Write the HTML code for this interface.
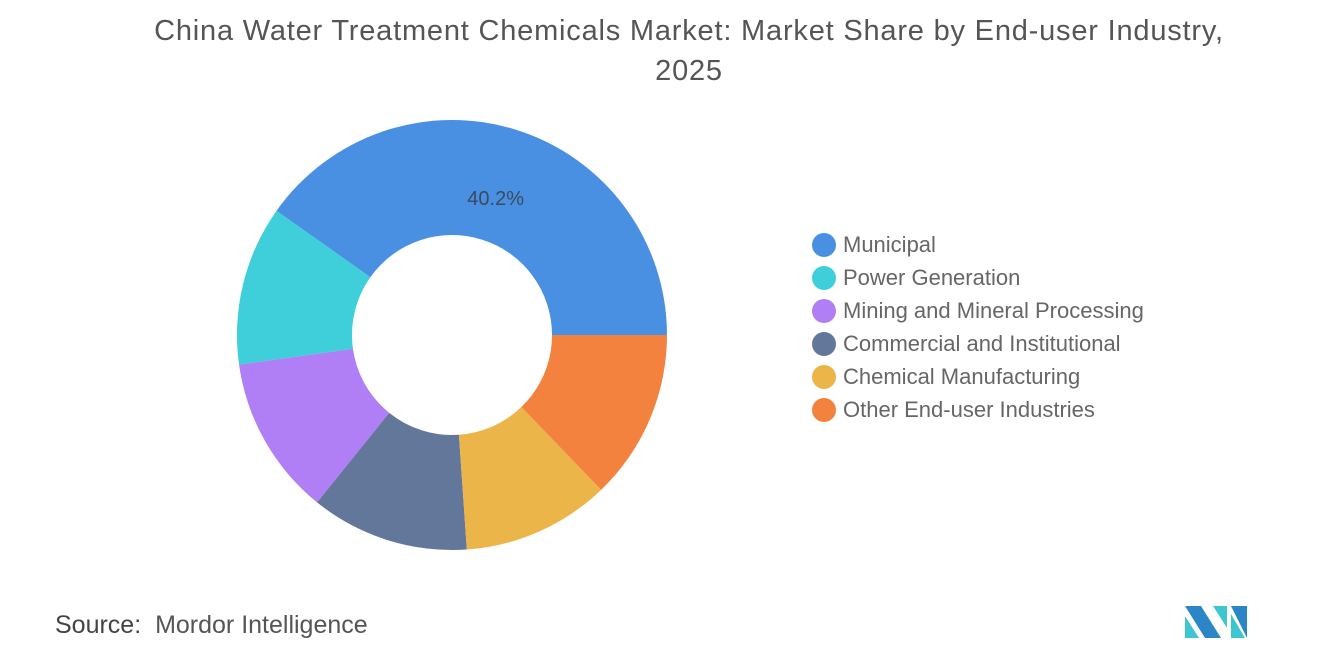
<!DOCTYPE html>
<html><head><meta charset="utf-8"><style>
body{margin:0;width:1320px;height:665px;background:#fff;font-family:"Liberation Sans",sans-serif;overflow:hidden;position:relative}
#title{position:absolute;left:0;width:1378px;top:11px;text-align:center;font-size:29px;letter-spacing:0.8px;line-height:40px;color:#555}
.leg{position:absolute;left:812px;height:30px;display:flex;align-items:center;font-size:22px;color:#666}
.leg span.dot{width:24px;height:24px;border-radius:50%;margin-right:7px}
#source{position:absolute;left:55px;top:611px;font-size:25px;color:#555}
</style></head><body>
<div id="title">China Water Treatment Chemicals Market: Market Share by End-user Industry,<br>2025</div>
<svg id="chart" width="1320" height="665" style="position:absolute;left:0;top:0"></svg>
<div id="legend"></div>
<div id="source"><b style="font-weight:normal;color:#444">Source:</b>&nbsp; Mordor Intelligence</div>
<svg width="70" height="36" style="position:absolute;left:1183px;top:604px">
<polygon points="2,2 18,2 38,34 22,34" fill="#2a86c6"/>
<polygon points="2,12 2,34 16,34" fill="#3ec6d0"/>
<polygon points="30,2 44,2 44,24" fill="#3ec6d0"/>
<polygon points="48,2 64,2 64,34" fill="#2a86c6"/>
<polygon points="48,10 48,34 62,34" fill="#3ec6d0"/>
</svg>
<script>
const categories=["Municipal","Power Generation","Mining and Mineral Processing","Commercial and Institutional","Chemical Manufacturing","Other End-user Industries"];
const values=[40.2,12.0,12.0,11.9,11.1,12.8];
const labels=["40.2%","","","","",""];
const colors=["#4a90e2","#3ecfdb","#b07ff5","#63779a","#ebb54a","#f3823f"];
const cx=452,cy=335,R=215,r=100;
const svg=document.getElementById('chart');
const NS="http://www.w3.org/2000/svg";
const total=values.reduce((a,b)=>a+b,0);
function pt(a,rad){return [cx+rad*Math.cos(a),cy+rad*Math.sin(a)];}
let ang=0;
values.forEach((v,i)=>{
  const sweep=v/total*2*Math.PI;
  const a0=ang,a1=ang-sweep;
  const large=sweep>Math.PI?1:0;
  const p0=pt(a0,R),p1=pt(a1,R),q1=pt(a1,r),q0=pt(a0,r);
  const p=document.createElementNS(NS,'path');
  p.setAttribute('d',`M${p0} A${R},${R} 0 ${large} 0 ${p1} L${q1} A${r},${r} 0 ${large} 1 ${q0} Z`);
  p.setAttribute('fill',colors[i]);
  
  
  svg.appendChild(p);
  if(labels[i]){
    const m=(a0+a1)/2;const lp=pt(m,144);
    const t=document.createElementNS(NS,'text');
    t.setAttribute('x',lp[0]);t.setAttribute('y',lp[1]+7);
    t.setAttribute('text-anchor','middle');t.setAttribute('font-size','20');
    t.setAttribute('fill','#3a4a60');t.setAttribute('font-family','Liberation Sans, sans-serif');
    t.textContent=labels[i];
    
    
    svg.appendChild(t);
  }
  ang=a1;
});
const leg=document.getElementById('legend');
categories.forEach((c,i)=>{
  const d=document.createElement('div');d.className='leg';d.style.top=(230+i*33)+'px';
  
  
  d.innerHTML=`<span class="dot" style="background:${colors[i]}"></span><span>${c}</span>`;
  leg.appendChild(d);
});
</script>
</body></html>
